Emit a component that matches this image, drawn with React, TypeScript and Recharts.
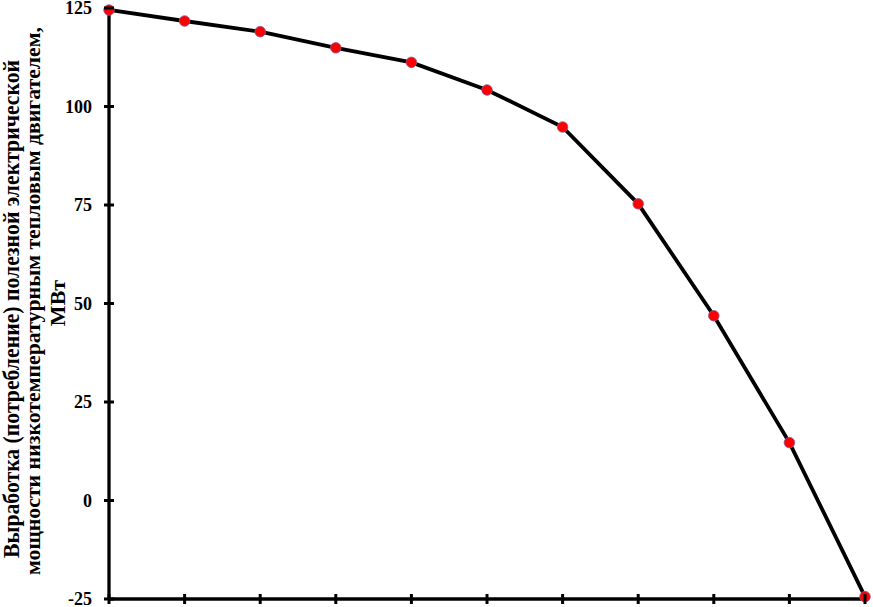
import { LineChart, Line, XAxis, YAxis } from "recharts";

// 11 evenly spaced points along the x axis (no x labels in the source)
const steps = [0, 1, 2, 3, 4, 5, 6, 7, 8, 9, 10];
const powerMW = [124.5, 121.7, 119.0, 114.9, 111.2, 104.2, 94.8, 75.3, 46.9, 14.7, -24.4];
const yTicks = [-25, 0, 25, 50, 75, 100, 125];
const yLabelLines = [
  "Выработка (потребление) полезной электрической",
  "мощности низкотемпературным тепловым двигателем,",
  "МВт",
];

const data = steps.map((s, i) => ({ s, p: powerMW[i] }));

const FONT = '"Liberation Serif", "Times New Roman", serif';

const XTick = (props: any) => {
  const { x, y } = props;
  return <line x1={x} x2={x} y1={y - 5} y2={y + 5} stroke="#000" strokeWidth={3} />;
};

const YTick = (props: any) => {
  const { x, y, payload } = props;
  return (
    <g>
      <line x1={x - 5} x2={x + 5} y1={y} y2={y} stroke="#000" strokeWidth={3} />
      <text
        x={x - 17}
        y={y}
        dy={6}
        textAnchor="end"
        fontFamily={FONT}
        fontWeight="bold"
        fontSize={18}
        fill="#000"
      >
        {payload.value}
      </text>
    </g>
  );
};

// the source label is drawn condensed, so stretch to the measured lengths
const rot = (x: number, y: number) => `rotate(-90 ${x} ${y})`;
const YLabel = () => (
  <g fontFamily={FONT} fontWeight="bold" fill="#000">
    <text x={19} y={309} transform={rot(19, 309)} textAnchor="middle" fontSize={24}
      textLength={498} lengthAdjust="spacingAndGlyphs">
      {yLabelLines[0]}
    </text>
    <text x={40} y={301} transform={rot(40, 301)} textAnchor="middle" fontSize={22}
      textLength={548} lengthAdjust="spacingAndGlyphs">
      {yLabelLines[1]}
    </text>
    <text x={65} y={303} transform={rot(65, 303)} textAnchor="middle" fontSize={22}>
      {yLabelLines[2]}
    </text>
  </g>
);

export default function App() {
  return (
    <div style={{ position: "absolute", left: 0, top: 0, background: "#fff" }}>
      <LineChart
        width={873}
        height={607}
        data={data}
        margin={{ top: 8, right: 8, bottom: 0, left: 0 }}
      >
        <XAxis
          dataKey="s"
          type="number"
          domain={[0, 10]}
          ticks={steps}
          interval={0}
          height={8}
          tickSize={0}
          tickMargin={0}
          tickLine={false}
          tick={<XTick />}
          axisLine={{ stroke: "#000", strokeWidth: 3.3 }}
        />
        <YAxis
          type="number"
          domain={[-25, 125]}
          ticks={yTicks}
          interval={0}
          width={109}
          tickSize={0}
          tickMargin={0}
          tickLine={false}
          tick={<YTick />}
          axisLine={{ stroke: "#000", strokeWidth: 3.3 }}
          label={{ content: <YLabel /> }}
        />
        <Line
          dataKey="p"
          stroke="#000"
          strokeWidth={3.8}
          isAnimationActive={false}
          dot={{ r: 5.3, fill: "#ff0000", stroke: "#8a5a9a", strokeWidth: 0.8 }}
        />
      </LineChart>
    </div>
  );
}
